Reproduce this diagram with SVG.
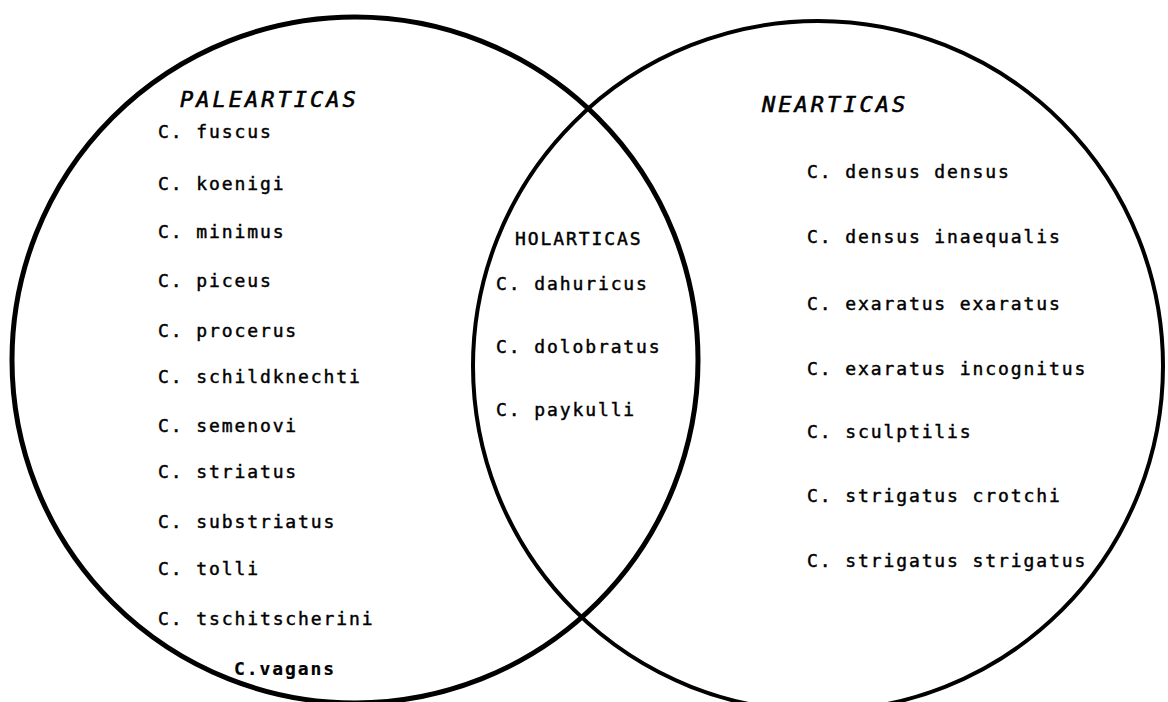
<svg xmlns="http://www.w3.org/2000/svg" width="1168" height="702" viewBox="0 0 1168 702">
<style>
.c{fill:none;stroke:#000;stroke-width:4.5}
.t{font-family:"DejaVu Sans Mono","Liberation Mono",monospace;font-size:18px;letter-spacing:1.9px;fill:#000;stroke:#000;stroke-width:0.45}
.h{font-family:"DejaVu Sans Mono","Liberation Mono",monospace;font-size:22px;font-style:italic;letter-spacing:3px;fill:#000;stroke:#000;stroke-width:0.6}
.b{font-weight:bold;stroke-width:0.2}
</style>
<rect width="1168" height="702" fill="#fff"/>
<g id="palearticas">
<circle class="c" cx="355" cy="360" r="343" style="stroke-width:5"/>
<text class="h" x="180" y="107">PALEARTICAS</text>
<text class="t" x="158" y="138">C. fuscus</text>
<text class="t" x="158" y="190">C. koenigi</text>
<text class="t" x="158" y="238">C. minimus</text>
<text class="t" x="158" y="287">C. piceus</text>
<text class="t" x="158" y="337">C. procerus</text>
<text class="t" x="158" y="383">C. schildknechti</text>
<text class="t" x="158" y="432">C. semenovi</text>
<text class="t" x="158" y="478">C. striatus</text>
<text class="t" x="158" y="528">C. substriatus</text>
<text class="t" x="158" y="575">C. tolli</text>
<text class="t" x="158" y="625">C. tschitscherini</text>
<text class="t b" x="234" y="675">C.vagans</text>
</g>
<g id="nearticas">
<circle class="c" cx="818" cy="366" r="345" style="stroke-width:4"/>
<text class="h" x="762" y="112">NEARTICAS</text>
<text class="t" x="807" y="178">C. densus densus</text>
<text class="t" x="807" y="243">C. densus inaequalis</text>
<text class="t" x="807" y="310">C. exaratus exaratus</text>
<text class="t" x="807" y="375">C. exaratus incognitus</text>
<text class="t" x="807" y="438">C. sculptilis</text>
<text class="t" x="807" y="502">C. strigatus crotchi</text>
<text class="t" x="807" y="567">C. strigatus strigatus</text>
</g>
<g id="holarticas">
<text class="t" x="515" y="245">HOLARTICAS</text>
<text class="t" x="496" y="290">C. dahuricus</text>
<text class="t" x="496" y="353">C. dolobratus</text>
<text class="t" x="496" y="416">C. paykulli</text>
</g>
</svg>
